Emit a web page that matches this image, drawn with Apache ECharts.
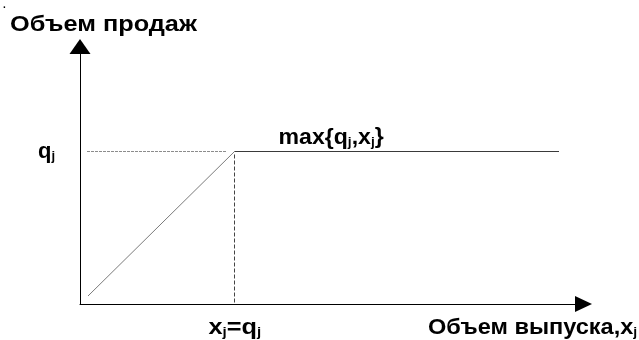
<!DOCTYPE html>
<html>
<head>
<meta charset="utf-8">
<script src="https://cdn.jsdelivr.net/npm/echarts@6/dist/echarts.min.js"></script>
<style>html,body{margin:0;padding:0;background:#fff}#c{width:639px;height:340px}</style>
</head>
<body>
<div id="c"></div>
<script>
// Data (grid units)
var qj = 15.25;           // sales volume level q_j
var xj = 15.45;           // output x_j where x_j = q_j
var diagonal = [[0.8, 0.8], [xj, qj]];
var plateau = [[xj, qj], [47.9, qj]];
var guideH = [[0.7, qj], [14.7, qj]];
var guideV = [[xj, qj - 0.3], [xj, 0]];
var yTitle = 'Объем продаж';
var xTitle = 'Объем выпуска,';

var chart = echarts.init(document.getElementById('c'));
var FONT = 'Liberation Sans';
var main = {fontFamily: FONT, fontWeight: 'bold', fontSize: 22, lineHeight: 24, verticalAlign: 'bottom', color: '#000'};
var sub = {fontFamily: FONT, fontWeight: 'bold', fontSize: 13, lineHeight: 16, verticalAlign: 'bottom', color: '#000'};
var rich = {m: main, s: sub};

function lineSeries(data, color, type) {
  return {type: 'line', data: data, symbol: 'none', silent: true, animation: false,
    lineStyle: {color: color, width: 1, type: type || 'solid'}};
}

chart.setOption({
  animation: false,
  grid: {left: 80, top: 54, width: 500, height: 250},
  xAxis: {type: 'value', min: 0, max: 50,
    axisLine: {show: true, onZero: false, symbol: ['none', 'triangle'], symbolSize: [16, 17], symbolOffset: [0, 3.5], lineStyle: {color: '#000', width: 1}},
    axisTick: {show: false}, axisLabel: {show: false}, splitLine: {show: false}},
  yAxis: {type: 'value', min: 0, max: 25,
    axisLine: {show: true, onZero: false, symbol: ['none', 'triangle'], symbolSize: [21, 15], symbolOffset: [0, 7.5], lineStyle: {color: '#000', width: 1}},
    axisTick: {show: false}, axisLabel: {show: false}, splitLine: {show: false}},
  series: [
    lineSeries(guideH, '#8c8c8c', [3, 1]),
    lineSeries(guideV, '#444', [4, 2]),
    lineSeries(diagonal, '#7a7a7a'),
    lineSeries(plateau, '#3a3a3a')
  ]
});

var pQ = chart.convertToPixel({gridIndex: 0}, [0, qj]);
var pX = chart.convertToPixel({gridIndex: 0}, [xj, 0]);
var pK = chart.convertToPixel({gridIndex: 0}, [xj, qj]);
var pYEnd = chart.convertToPixel({gridIndex: 0}, [0, 25]);
var pXEnd = chart.convertToPixel({gridIndex: 0}, [50, 0]);

function txt(x, y, text, sx) {
  return {type: 'text', x: x, y: y, scaleX: sx || 1, silent: true,
    style: {text: text, rich: rich, align: 'left', verticalAlign: 'middle', fill: '#000',
      font: 'bold 22px "' + FONT + '"'}};
}

chart.setOption({
  graphic: [
    {type: 'text', x: 3, y: 0, style: {text: '.', font: 'bold 10px "' + FONT + '"', fill: '#000'}},
    txt(10, pYEnd[1] - 30, '{m|' + yTitle + '}', 1.15),
    txt(pXEnd[0] - 152, pX[1] + 23, '{m|' + xTitle + 'x}{s|j}', 1.07),
    txt(pQ[0] - 42, pQ[1] - 1, '{m|q}{s|j}', 1.0),
    txt(pK[0] + 44, pK[1] - 15, '{m|max\{q}{s|j}{m|,x}{s|j}{m|\}}', 1.05),
    txt(pX[0] - 26, pX[1] + 23, '{m|x}{s|j}{m|=q}{s|j}', 1.15)
  ]
});
</script>
</body>
</html>
